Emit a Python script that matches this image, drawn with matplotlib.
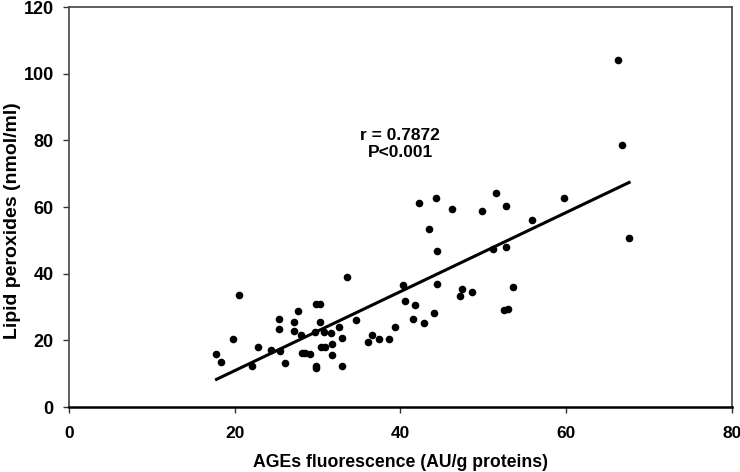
import numpy as np
import matplotlib
matplotlib.use('Agg')
import matplotlib.pyplot as plt

plt.rcParams['font.family'] = ['Liberation Sans', 'DejaVu Sans']
plt.rcParams['font.weight'] = 'bold'

# AGEs fluorescence (AU/g proteins)
ages = [17.8, 18.3, 19.8, 20.5, 22.1, 22.8, 24.4, 25.3, 25.3, 25.5,
        26.1, 27.1, 27.1, 27.6, 28.0, 28.1, 28.5, 29.1, 29.7, 29.8,
        29.8, 29.8, 30.3, 30.3, 30.4, 30.8, 30.9, 31.6, 31.7, 31.8,
        32.6, 32.9, 32.9, 33.5, 34.6, 36.1, 36.6, 37.4, 38.6, 39.3,
        40.3, 40.6, 41.5, 41.8, 42.3, 42.8, 43.5, 44.1, 44.3, 44.4,
        44.4, 46.2, 47.2, 47.4, 48.6, 49.9, 51.2, 51.5, 52.5, 52.7,
        52.8, 53.0, 53.6, 55.9, 59.8, 66.2, 66.7, 67.6]
# Lipid peroxides (nmol/ml)
lipid = [15.9, 13.5, 20.3, 33.7, 12.3, 18.0, 17.1, 26.5, 23.5, 16.7,
         13.3, 25.6, 22.9, 28.7, 21.6, 16.1, 16.3, 15.9, 22.4, 12.4,
         11.6, 30.9, 30.9, 25.6, 18.1, 22.6, 18.1, 22.2, 15.5, 18.8,
         23.9, 20.8, 12.4, 38.9, 26.1, 19.6, 21.5, 20.3, 20.3, 24.1,
         36.6, 31.8, 26.3, 30.5, 61.2, 25.3, 53.3, 28.2, 62.6, 46.9,
         36.9, 59.5, 33.4, 35.4, 34.4, 58.8, 47.3, 64.3, 29.1, 60.3,
         48.0, 29.4, 35.9, 56.0, 62.8, 104.2, 78.5, 50.6]

x_ticks = [0, 20, 40, 60, 80]
y_ticks = [0, 20, 40, 60, 80, 100, 120]

x = np.array(ages)
y = np.array(lipid)
slope, intercept = np.polyfit(x, y, 1)
xl = np.array([x.min(), x.max()])

fig = plt.figure(figsize=(7.4, 4.72), dpi=100)
ax = fig.add_axes([0.0932, 0.1377, 0.8958, 0.8473])

ax.scatter(x, y, s=20, color='black', zorder=3)
ax.plot(xl, slope * xl + intercept, color='black', lw=2.2)

ax.text(40, 79, 'r = 0.7872\nP<0.001', ha='center', va='center',
        fontsize=12.5, fontweight='bold', linespacing=1.2)

ax.set_xlim(0, 80)
ax.set_ylim(0, 120)
ax.set_xticks(x_ticks)
ax.set_yticks(y_ticks)
ax.tick_params(direction='out', length=4, width=1, labelsize=13, colors='#333333')
ax.tick_params(labelcolor='black')
ax.tick_params(axis='x', pad=10, labelsize=12.5)
ax.tick_params(axis='y', pad=7)
for lab in ax.get_xticklabels() + ax.get_yticklabels():
  lab.set_fontweight('bold')

for side in ['left', 'top', 'right']:
  ax.spines[side].set_color('#444444')
  ax.spines[side].set_linewidth(1.2)
ax.spines['bottom'].set_color('black')
ax.spines['bottom'].set_linewidth(1.8)

ax.set_xlabel('AGEs fluorescence (AU/g proteins)', fontsize=12.7,
              fontweight='bold', labelpad=9)
ax.set_ylabel('Lipid peroxides (nmol/ml)', fontsize=14, fontweight='bold')
ax.yaxis.set_label_coords(-0.073, 0.465)

fig.savefig('out.png', dpi=100)
